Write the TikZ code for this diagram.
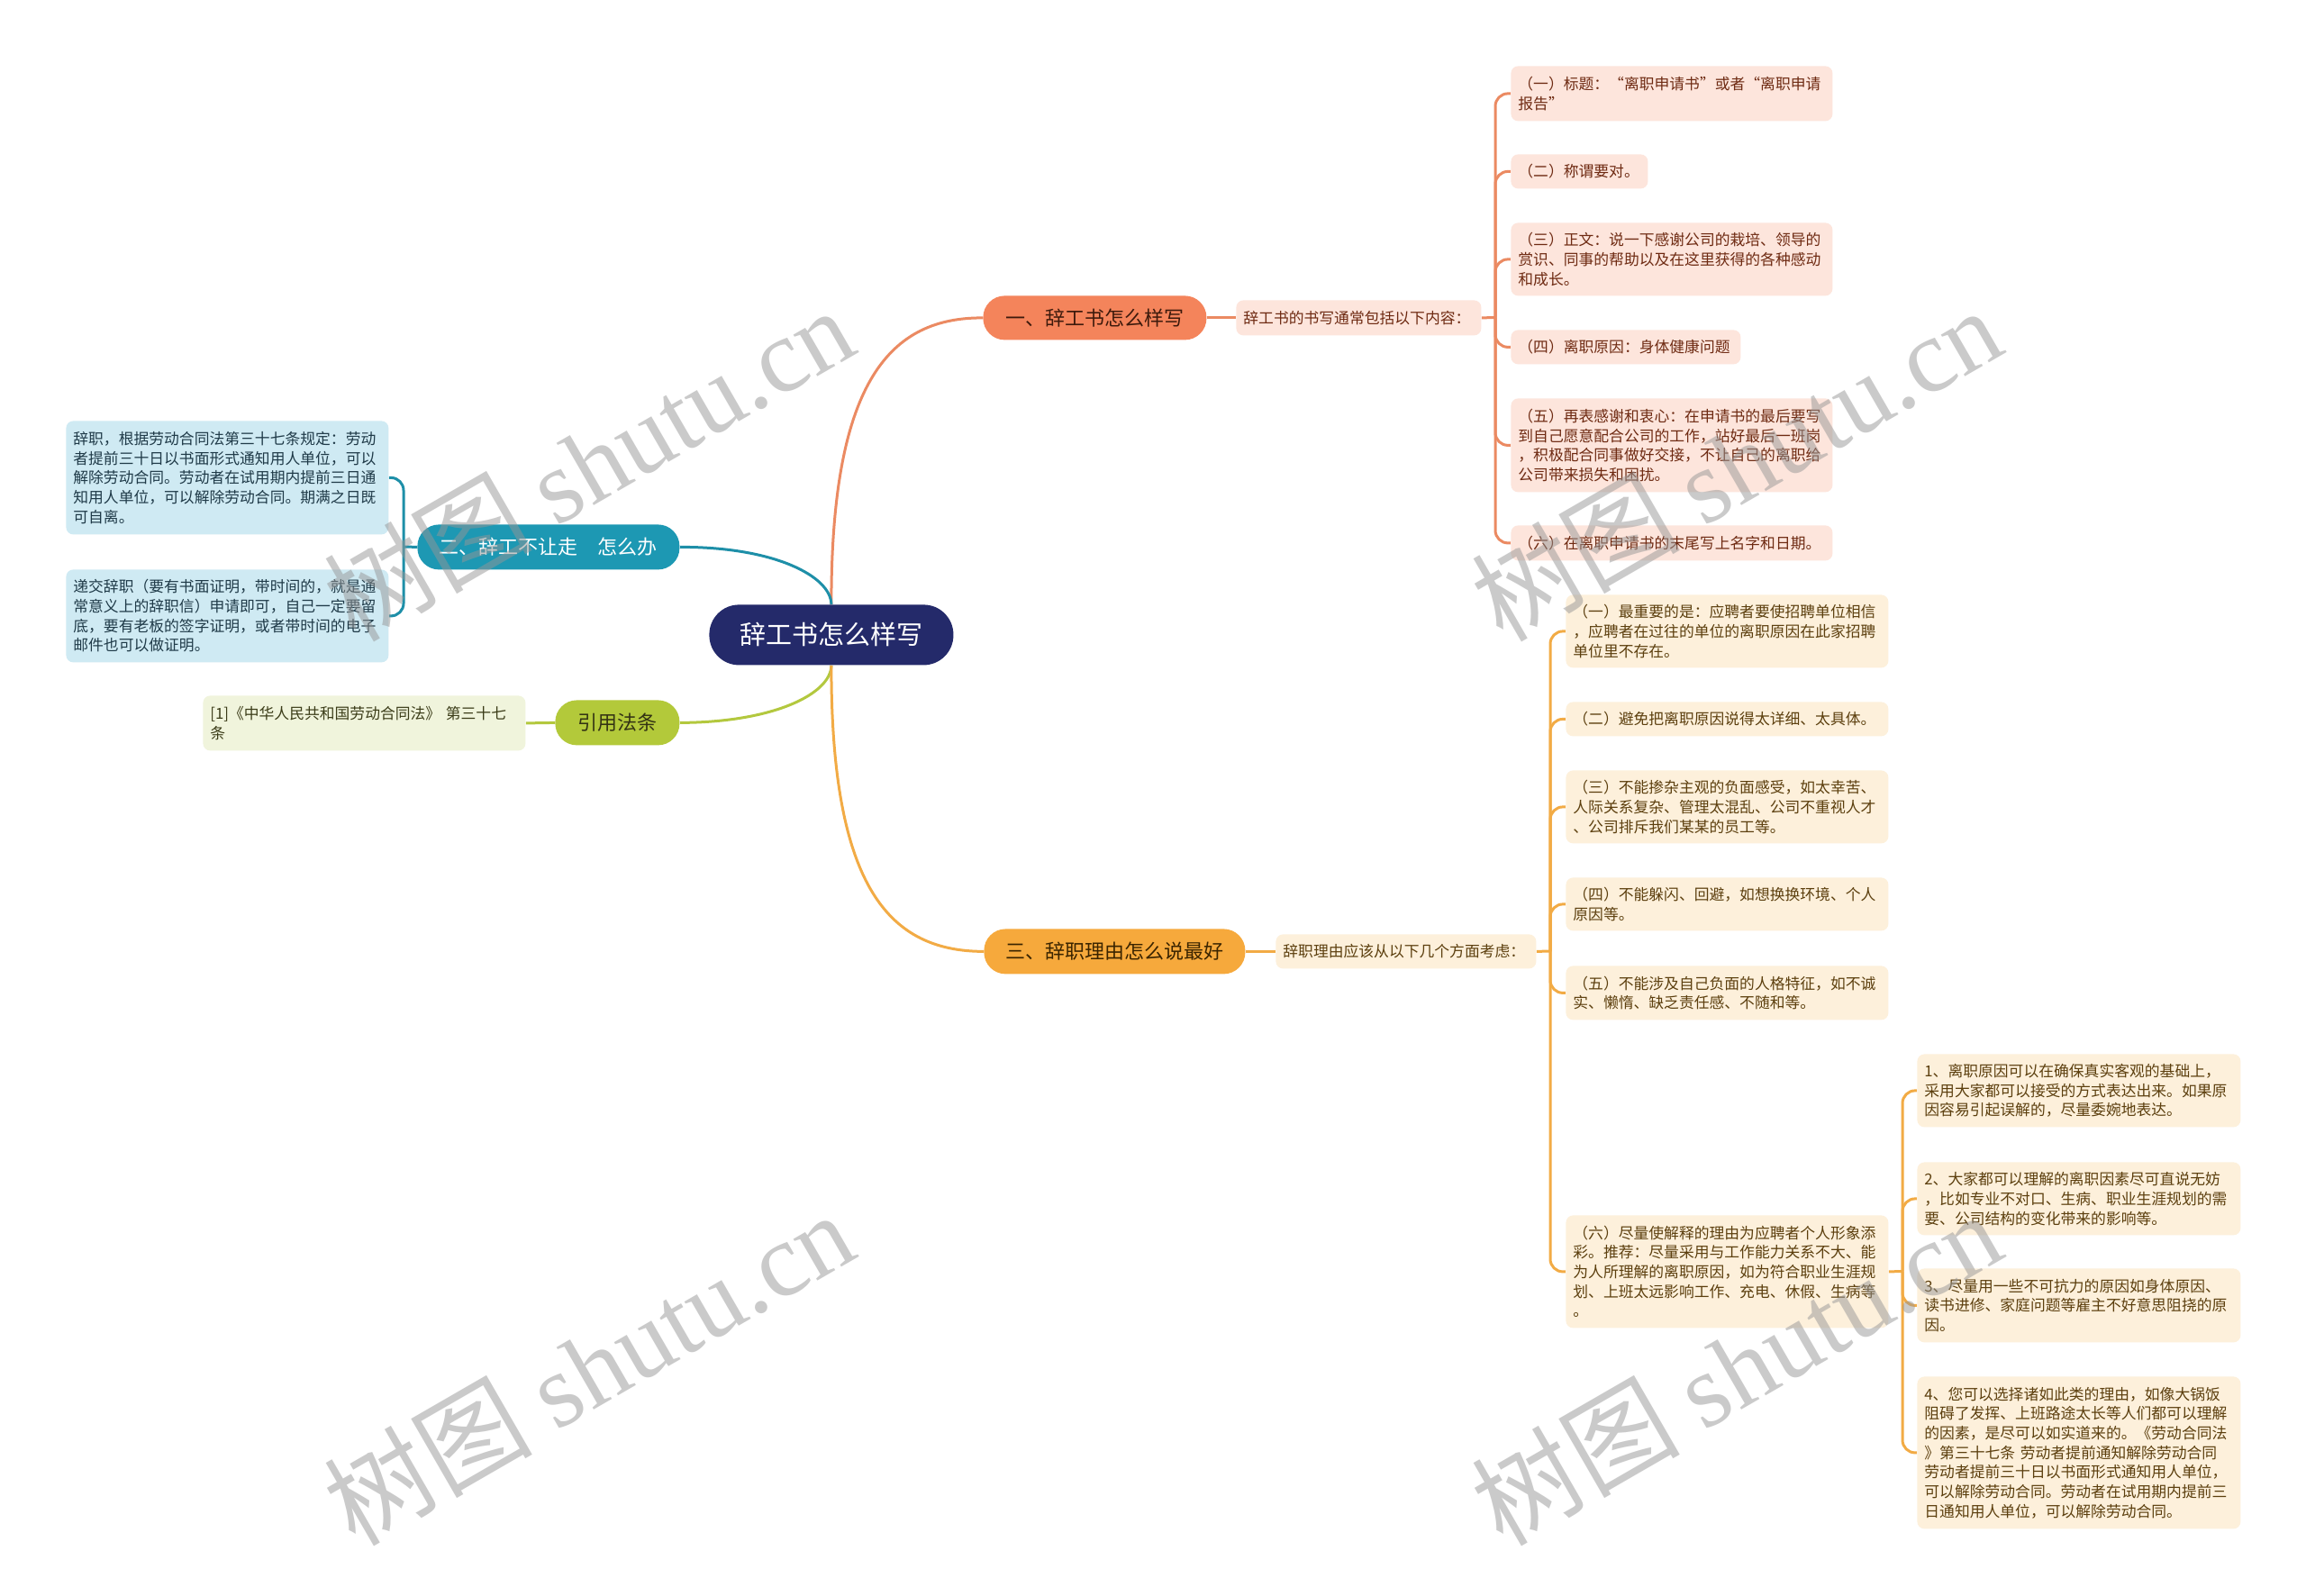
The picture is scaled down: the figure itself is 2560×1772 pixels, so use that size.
\documentclass[tikz,border=0pt]{standalone}
\usepackage{fontspec}
\setmainfont{Noto Sans CJK SC}
\newfontfamily\wmlatin{Liberation Serif}
\usetikzlibrary{backgrounds}
\definecolor{rootfill}{HTML}{242A6A}
\definecolor{aFill}{HTML}{F4845B}
\definecolor{aLine}{HTML}{EB8A62}
\definecolor{aLeaf}{HTML}{FDE5DC}
\definecolor{aText}{HTML}{6E2A12}
\definecolor{aNode}{HTML}{3D1A0C}
\definecolor{bFill}{HTML}{1D98B3}
\definecolor{bLine}{HTML}{1E8FA8}
\definecolor{bLeaf}{HTML}{CFEAF3}
\definecolor{bText}{HTML}{1F3A48}
\definecolor{cFill}{HTML}{B3C93A}
\definecolor{cLine}{HTML}{B3C83E}
\definecolor{cLeaf}{HTML}{F0F4DC}
\definecolor{cText}{HTML}{3B3C18}
\definecolor{cNode}{HTML}{333314}
\definecolor{dFill}{HTML}{F6A93C}
\definecolor{dLine}{HTML}{F2AB45}
\definecolor{dLeaf}{HTML}{FDF0DB}
\definecolor{dText}{HTML}{5C3F0E}
\definecolor{dNode}{HTML}{3A2400}
\definecolor{wmgray}{RGB}{150,150,150}
\begin{document}
\begin{tikzpicture}[x=0.5pt,y=-0.5pt,
  leafbase/.style={rectangle, rounded corners=4pt, inner xsep=4pt, inner ysep=3pt,
    align=left, anchor=north west, font=\fontsize{8.4}{10.85}\selectfont},
  aleaf/.style={leafbase, fill=aLeaf, text=aText},
  bleaf/.style={leafbase, fill=bLeaf, text=bText},
  cleaf/.style={leafbase, fill=cLeaf, text=cText},
  dleaf/.style={leafbase, fill=dLeaf, text=dText},
  branchnode/.style={rectangle, rounded corners=12pt, inner sep=0pt, anchor=north west,
    font=\fontsize{11}{13}\selectfont},
  rootnode/.style={rectangle, rounded corners=16.5pt, inner sep=0pt, anchor=north west,
    fill=rootfill, text=white, font=\fontsize{14.5}{17}\selectfont},
  aline/.style={draw=aLine, line width=1.5pt},
  bline/.style={draw=bLine, line width=1.5pt},
  cline/.style={draw=cLine, line width=1.5pt},
  dline/.style={draw=dLine, line width=1.5pt},
  elbow/.style={rounded corners=7pt},
  wmark/.style={rotate=30, text=wmgray, opacity=0.5, inner sep=0pt}
]
\useasboundingbox (0,0) rectangle (2560,1772);

% central
\node[rootnode, minimum width=135.5pt, minimum height=33.5pt] (root) at (787,671) {辞工书怎么样写};

% branch 1
\node[branchnode, fill=aFill, text=aNode, minimum width=124pt, minimum height=24.5pt] (b1) at (1091,328) {一、辞工书怎么样写};
\node[aleaf, text width=128pt, minimum height=19.5pt] (s1) at (1372,333) {辞工书的书写通常包括以下内容：};
\node[aleaf, text width=170.5pt, minimum height=30.5pt] (l1a) at (1677,73) {（一）标题：“离职申请书”或者“离职申请\\报告”};
\node[aleaf, text width=68pt, minimum height=19pt] (l1b) at (1677,171) {（二）称谓要对。};
\node[aleaf, text width=170.5pt, minimum height=40.5pt] (l1c) at (1677,247) {（三）正文：说一下感谢公司的栽培、领导的\\赏识、同事的帮助以及在这里获得的各种感动\\和成长。};
\node[aleaf, text width=119.5pt, minimum height=19pt] (l1d) at (1677,366) {（四）离职原因：身体健康问题};
\node[aleaf, text width=170.5pt, minimum height=52pt] (l1e) at (1677,442) {（五）再表感谢和衷心：在申请书的最后要写\\到自己愿意配合公司的工作，站好最后一班岗\\，积极配合同事做好交接，不让自己的离职给\\公司带来损失和困扰。};
\node[aleaf, text width=170.5pt, minimum height=19.5pt] (l1f) at (1677,583) {（六）在离职申请书的末尾写上名字和日期。};

% branch 2
\node[branchnode, fill=bFill, text=white, minimum width=145.5pt, minimum height=25pt] (b2) at (463,582) {二、辞工不让走　怎么办};
\node[bleaf, text width=171pt, minimum height=63pt] (l2a) at (73,467) {辞职，根据劳动合同法第三十七条规定：劳动\\者提前三十日以书面形式通知用人单位，可以\\解除劳动合同。劳动者在试用期内提前三日通\\知用人单位，可以解除劳动合同。期满之日既\\可自离。};
\node[bleaf, text width=171pt, minimum height=51.5pt] (l2b) at (73,632) {递交辞职（要有书面证明，带时间的，就是通\\常意义上的辞职信）申请即可，自己一定要留\\底，要有老板的签字证明，或者带时间的电子\\邮件也可以做证明。};

% branch 3
\node[branchnode, fill=cFill, text=cNode, minimum width=69pt, minimum height=25pt] (b3) at (616,777) {引用法条};
\node[cleaf, text width=171pt, minimum height=30.5pt] (l3a) at (225,772) {[1]《中华人民共和国劳动合同法》~第三十七\\条};

% branch 4
\node[branchnode, fill=dFill, text=dNode, minimum width=145pt, minimum height=25pt] (b4) at (1092,1031) {三、辞职理由怎么说最好};
\node[dleaf, text width=136.5pt, minimum height=19pt] (s4) at (1416,1037) {辞职理由应该从以下几个方面考虑：};
\node[dleaf, text width=171pt, minimum height=40.5pt] (l4a) at (1738,660) {（一）最重要的是：应聘者要使招聘单位相信\\，应聘者在过往的单位的离职原因在此家招聘\\单位里不存在。};
\node[dleaf, text width=171pt, minimum height=19pt] (l4b) at (1738,779) {（二）避免把离职原因说得太详细、太具体。};
\node[dleaf, text width=171pt, minimum height=40.5pt] (l4c) at (1738,855) {（三）不能掺杂主观的负面感受，如太幸苦、\\人际关系复杂、管理太混乱、公司不重视人才\\、公司排斥我们某某的员工等。};
\node[dleaf, text width=171pt, minimum height=29.5pt] (l4d) at (1738,974) {（四）不能躲闪、回避，如想换换环境、个人\\原因等。};
\node[dleaf, text width=171pt, minimum height=30pt] (l4e) at (1738,1072) {（五）不能涉及自己负面的人格特征，如不诚\\实、懒惰、缺乏责任感、不随和等。};
\node[dleaf, text width=171pt, minimum height=62.5pt] (l4f) at (1738,1349) {（六）尽量使解释的理由为应聘者个人形象添\\彩。推荐：尽量采用与工作能力关系不大、能\\为人所理解的离职原因，如为符合职业生涯规\\划、上班太远影响工作、充电、休假、生病等\\。};
\node[dleaf, text width=171.5pt, minimum height=40.5pt] (sa) at (2128,1170) {1、离职原因可以在确保真实客观的基础上，\\采用大家都可以接受的方式表达出来。如果原\\因容易引起误解的，尽量委婉地表达。};
\node[dleaf, text width=171.5pt, minimum height=40.5pt] (sb) at (2128,1290) {2、大家都可以理解的离职因素尽可直说无妨\\，比如专业不对口、生病、职业生涯规划的需\\要、公司结构的变化带来的影响等。};
\node[dleaf, text width=171.5pt, minimum height=41pt] (sc) at (2128,1408) {3、尽量用一些不可抗力的原因如身体原因、\\读书进修、家庭问题等雇主不好意思阻挠的原\\因。};
\node[dleaf, text width=171.5pt, minimum height=84.5pt] (sd) at (2128,1528) {4、您可以选择诸如此类的理由，如像大锅饭\\阻碍了发挥、上班路途太长等人们都可以理解\\的因素，是尽可以如实道来的。《劳动合同法\\》第三十七条~劳动者提前通知解除劳动合同\\劳动者提前三十日以书面形式通知用人单位，\\可以解除劳动合同。劳动者在试用期内提前三\\日通知用人单位，可以解除劳动合同。};

% junctions
\coordinate (j1) at (1660,352.5);
\coordinate (j2) at (448,607);
\coordinate (j4) at (1721,1056);
\coordinate (j6) at (2112,1411.5);

\begin{pgfonlayer}{background}
\fill[white] (0,0) rectangle (2560,1772);
% branch 1
\draw[aline] (root.north) .. controls (922.5,420) and (990,352.5) .. (b1.west);
\draw[aline] (b1.east) -- (s1.west);
\draw[aline] (s1.east) -- (j1);
\foreach \n in {l1a,l1b,l1c,l1d,l1e,l1f} \draw[aline, elbow] (j1) |- (\n.west);
% branch 2
\draw[bline] (b2.east) .. controls (860,607) and (922.5,640) .. (root.north);
\draw[bline] (b2.west) -- (j2);
\foreach \n in {l2a,l2b} \draw[bline, elbow] (j2) |- (\n.east);
% branch 3
\draw[cline] (b3.east) .. controls (860,802) and (922.5,770) .. (root.south);
\draw[cline] (b3.west) -- (l3a.east);
% branch 4
\draw[dline] (root.south) .. controls (922.5,990) and (990,1056) .. (b4.west);
\draw[dline] (b4.east) -- (s4.west);
\draw[dline] (s4.east) -- (j4);
\foreach \n in {l4a,l4b,l4c,l4d,l4e,l4f} \draw[dline, elbow] (j4) |- (\n.west);
\draw[dline] (l4f.east) -- (j6);
\foreach \n in {sa,sb,sc,sd} \draw[dline, elbow] (j6) |- (\n.west);
\end{pgfonlayer}

% watermarks
\node[wmark] (w1) at (653,514) {\fontsize{58}{60}\selectfont 树图 {\wmlatin shutu.cn}};
\node[wmark] (w2) at (1927,514) {\fontsize{58}{60}\selectfont 树图 {\wmlatin shutu.cn}};
\node[wmark] (w3) at (653,1518) {\fontsize{58}{60}\selectfont 树图 {\wmlatin shutu.cn}};
\node[wmark] (w4) at (1927,1518) {\fontsize{58}{60}\selectfont 树图 {\wmlatin shutu.cn}};
\end{tikzpicture}
\end{document}
